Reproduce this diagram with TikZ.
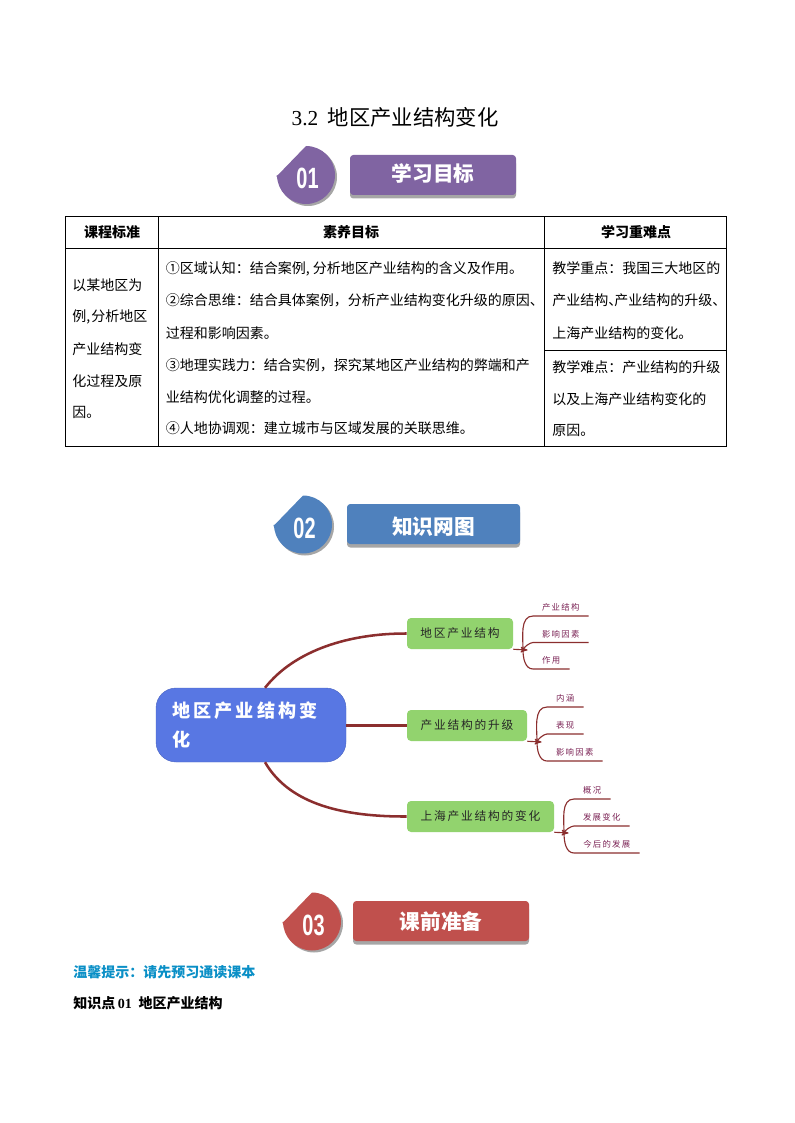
\documentclass[tikz,border=0pt]{standalone}
\usepackage{fontspec}
\setmainfont{Noto Sans CJK SC}
\newfontfamily\latinserif{Liberation Serif}
\newfontfamily\latinsans{Liberation Sans}
\newfontfamily\cjkwide[LetterSpace=17]{Noto Sans CJK SC}
\newfontfamily\cjkmid[LetterSpace=15]{Noto Sans CJK SC}
\usetikzlibrary{arrows, calc}
\definecolor{branchred}{HTML}{8B2E2E}
\definecolor{rootblue}{HTML}{5877E3}
\definecolor{subgreen}{HTML}{92D36E}
\definecolor{leafpurple}{HTML}{7B2355}
\definecolor{tippblue}{HTML}{0A8FC6}
\definecolor{badgepurple}{HTML}{8064A2}
\definecolor{badgeblue}{HTML}{4F81BD}
\definecolor{badgered}{HTML}{C0504D}
\tikzset{
>=stealth', % small heads on the stems
cell/.style={anchor=west, inner sep=0pt, font=\fontsize{10.5pt}{12pt}\selectfont}, % one line of table text
head/.style={inner sep=0pt, font=\fontsize{10.5pt}{12pt}\selectfont\bfseries},
root/.style={rounded corners=15pt, fill=rootblue, draw=rootblue!85!black, line width=.3pt, inner sep=0pt, minimum width=142.5pt, minimum height=55.5pt, text=white},
sub/.style={rounded corners=3pt, fill=subgreen, inner sep=0pt, minimum height=23.25pt, font=\cjkmid\fontsize{8.8pt}{10pt}\selectfont, text=black!85},
leaf/.style={anchor=south west, inner sep=0pt, minimum height=12.5pt, minimum width=#1*.75pt, font=\cjkmid\fontsize{6.3pt}{7pt}\selectfont, text=leafpurple},
branch/.style={draw=branchred, line width=1.9pt},
twig/.style={draw=branchred, line width=.85pt},
}

\begin{document}
\begin{tikzpicture}[x=.75pt, y=-.75pt]
    \useasboundingbox (0,0) rectangle (794,1123);
    \node[inner sep=0pt, font=\fontsize{16pt}{18pt}\selectfont] (title) at (395,117) {{\latinserif 3.2}\hspace{7pt}地区产业结构变化};

    % badges and bars
    \foreach \n/\cx/\cy/\col/\bx/\by/\bw/\ty/\txt in {
        1/306/175/badgepurple/433/175/166/174/学习目标,
        2/303/524.5/badgeblue/433.5/524/173/527/知识网图,
        3/312/921.5/badgered/441/921/176/922/课前准备}{
        \fill[gray!70] (\cx+2,\cy-27) arc (-90:180:29) -- (\cx-28,\cy+4) -- cycle;
        \fill[\col] (\cx,\cy-29) arc (-90:180:29) -- (\cx-30,\cy+2) -- cycle;
        \node[text=white, inner sep=0pt, font=\latinsans\bfseries\fontsize{22pt}{24pt}\selectfont] (num\n) at (\cx+1.5,\cy+3.5) {\scalebox{.68}[1]{0\n}};
        \fill[gray!70, rounded corners=2.5pt] (\bx-\bw/2,\by-15) rectangle (\bx+\bw/2,\by+23.5);
        \node[fill=\col, rounded corners=2.5pt, inner sep=0pt, minimum width=\bw*.75pt, minimum height=30pt] (bar\n) at (\bx,\by) {};
        \node[text=white, inner sep=0pt, font=\fontsize{15.5pt}{18pt}\selectfont\bfseries] (label\n) at (\bx,\ty) {\txt};
    }

    % table
    \draw[line width=.6pt] (65,216.5) rectangle (726.5,446);
    \draw[line width=.6pt] (65,248) -- (726.5,248);
    \draw[line width=.6pt] (158.7,216.5) -- (158.7,446);
    \draw[line width=.6pt] (544.3,216.5) -- (544.3,446);
    \draw[line width=.6pt] (544.3,350) -- (726.5,350);
    \node[head] (hstd) at (112,232) {课程标准};
    \node[head] (hgoal) at (351,232) {素养目标};
    \node[head] (hkey) at (636,232) {学习重难点};
    \foreach \y/\txt in {285/以某地区为, 317/{例,\kern1pt 分析地区}, 349/产业结构变, 381/化过程及原, 412/因。}
        \node[cell] (std\y) at (72,\y) {\txt};
    \foreach \y/\txt in {
        269/{①区域认知：结合案例, 分析地区产业结构的含义及作用。},
        300/{②综合思维：结合具体案例，分析产业结构变化升级的原因、},
        333/过程和影响因素。,
        365/{③地理实践力：结合实例，探究某地区产业结构的弊端和产},
        397/业结构优化调整的过程。,
        428/④人地协调观：建立城市与区域发展的关联思维。}
        \node[cell] (goal\y) at (165.7,\y) {\txt};
    \foreach \y/\txt in {
        268/教学重点：我国三大地区的,
        300/{产业结构、\kern-6pt 产业结构的升级、},
        333/上海产业结构的变化。,
        367/教学难点：产业结构的升级,
        399/以及上海产业结构变化的,
        430/原因。}
        \node[cell] (key\y) at (552,\y) {\txt};

    % mind map
    \node[root] (map) at (251,725) {\parbox{118pt}{\cjkwide\bfseries\fontsize{13.6pt}{22pt}\selectfont 地区产业结构变\\化}};
    \node[sub, minimum width=79.5pt] (s1) at (460,633.5) {地区产业结构};
    \node[sub, minimum width=90pt] (s2) at (467,725.5) {产业结构的升级};
    \node[sub, minimum width=110.25pt] (s3) at (480.5,816.5) {上海产业结构的变化};
    \draw[branch] ($(map.north)+(14,0)$) .. controls ($(map.north)+(44,-38)$) and ($(map.north)+(99,-54.5)$) .. (s1.west);
    \draw[branch] (map.east |- s2.west) -- (s2.west);
    \draw[branch] ($(map.south)+(14,0)$) .. controls ($(map.south)+(39,43)$) and ($(map.south)+(94,54.5)$) .. (s3.west);

    \node[leaf=55] (a1) at (533,616) {产业结构};
    \node[leaf=55] (a2) at (533,642.5) {影响因素};
    \node[leaf=36] (a3) at (533,669) {作用};
    \node[leaf=36] (b1) at (547,707) {内涵};
    \node[leaf=36] (b2) at (547,734) {表现};
    \node[leaf=55] (b3) at (547,761) {影响因素};
    \node[leaf=36] (c1) at (574,799) {概况};
    \node[leaf=55] (c2) at (574,826) {发展变化};
    \node[leaf=65] (c3) at (574,853) {今后的发展};

    \coordinate (h1) at (523,650);
    \coordinate (h2) at (537,742);
    \coordinate (h3) at (564,833);
    \coordinate (e1) at (527.5,650);
    \coordinate (e2) at (541.5,742);
    \coordinate (e3) at (568.5,833);
    \foreach \s/\g in {1/a, 2/b, 3/c}{
        \draw[twig, ->] (s\s.south east) -- (e\s);
        \draw[twig] (h\s) to[out=90, in=180, looseness=.95] (\g1.south west) -- (\g1.south east);
        \draw[twig] (h\s) to[out=80, in=180, looseness=.6] (\g2.south west) -- (\g2.south east);
        \draw[twig] (h\s) to[out=-90, in=180, looseness=.95] (\g3.south west) -- (\g3.south east);
    }

    % last lines
    \node[anchor=west, inner sep=0pt, text=tippblue, font=\fontsize{10.5pt}{12pt}\selectfont\bfseries] (tip) at (73,972) {温馨提示：请先预习通读课本};
    \node[anchor=west, inner sep=0pt, font=\fontsize{10.5pt}{12pt}\selectfont\bfseries] (point) at (73,1003) {知识点\kern2pt{\latinserif\bfseries 01}\hspace{5pt}地区产业结构};
\end{tikzpicture}
\end{document}
